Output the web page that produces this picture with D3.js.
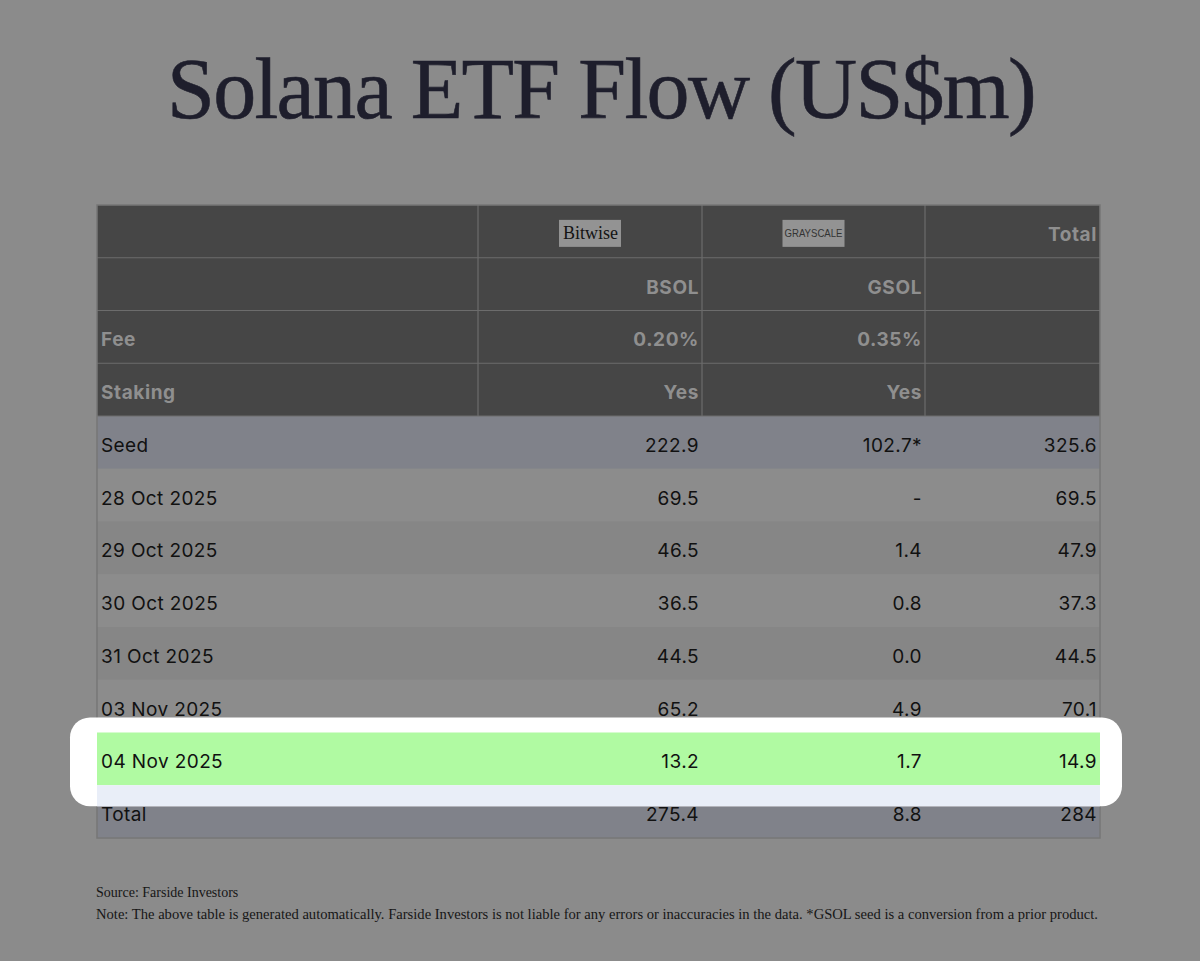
<!DOCTYPE html>
<html>
<head>
<meta charset="utf-8">
<style>
  html, body { margin: 0; padding: 0; background: #8b8b8b; }
  svg { display: block; }
  .cell { font-family: Inter, "Liberation Sans", sans-serif; font-size: 19px; letter-spacing: 0.4px; }
  .head { font-weight: bold; fill: #8f8f8f; letter-spacing: 0.6px; }
  .note { font-family: "Liberation Serif", serif; font-size: 14px; fill: #161616; }
</style>
</head>
<body>
<svg id="chart" width="1200" height="961"></svg>
<script src="https://cdn.jsdelivr.net/npm/d3@7"></script>
<script>
// table content
var funds = ["BSOL", "GSOL"];
var issuers = ["Bitwise", "GRAYSCALE"];
var fees = ["0.20%", "0.35%"];
var staking = ["Yes", "Yes"];
var dates = ["Seed", "28 Oct 2025", "29 Oct 2025", "30 Oct 2025", "31 Oct 2025", "03 Nov 2025", "04 Nov 2025", "Total"];
var bsolFlow = ["222.9", "69.5", "46.5", "36.5", "44.5", "65.2", "13.2", "275.4"];
var gsolFlow = ["102.7*", "-", "1.4", "0.8", "0.0", "4.9", "1.7", "8.8"];
var totalFlow = ["325.6", "69.5", "47.9", "37.3", "44.5", "70.1", "14.9", "284"];
var highlightDate = "04 Nov 2025";

var W = 1200, H = 961;
var svg = d3.select("#chart");

var tableLeft = 97, tableRight = 1100, tableTop = 205, tableBottom = 838;
var colKeys = ["label", "BSOL", "GSOL", "Total"];
// column edges
var colEdge = d3.scaleOrdinal().domain(colKeys.concat(["end"])).range([tableLeft, 478, 702, 925, tableRight]);
function colRight(k) { return colEdge(colKeys[colKeys.indexOf(k) + 1] || "end"); }

var nHead = 4;
var y = d3.scaleBand().domain(d3.range(nHead + dates.length)).range([tableTop, tableBottom]);

// title
svg.append("text")
  .attr("x", W / 2 + 1).attr("y", 118)
  .attr("text-anchor", "middle")
  .style("font-family", "'Liberation Serif', 'Times New Roman', serif")
  .style("font-size", "86px")
  .style("letter-spacing", "-1.7px")
  .style("fill", "#1e1e2c")
  .style("stroke", "#1e1e2c").style("stroke-width", 0.6)
  .text("Solana ETF Flow (US$m)");

var table = svg.append("g");

// header block
table.append("rect")
  .attr("x", tableLeft).attr("y", y(0))
  .attr("width", tableRight - tableLeft).attr("height", y(nHead) - y(0))
  .attr("fill", "#464646");

// body rows (dimmed colours)
var rowFill = function (i) {
  if (dates[i] === "Seed" || dates[i] === "Total") return "#80828a";
  return i % 2 === 1 ? "#8c8c8c" : "#868686";
};
table.selectAll(".row").data(dates).enter().append("rect")
  .attr("class", "row")
  .attr("x", tableLeft).attr("y", (d, i) => y(nHead + i))
  .attr("width", tableRight - tableLeft).attr("height", y.bandwidth())
  .attr("fill", (d, i) => rowFill(i));

// header grid lines
d3.range(1, nHead + 1).forEach(function (r) {
  table.append("line")
    .attr("x1", tableLeft).attr("x2", tableRight)
    .attr("y1", y(r)).attr("y2", y(r))
    .attr("stroke", "#6c6c6c").attr("stroke-width", 1.2);
});
colKeys.slice(1).forEach(function (k) {
  table.append("line")
    .attr("x1", colEdge(k)).attr("x2", colEdge(k))
    .attr("y1", y(0)).attr("y2", y(nHead))
    .attr("stroke", "#6c6c6c").attr("stroke-width", 1.2);
});

// outer border
table.append("rect")
  .attr("x", tableLeft).attr("y", tableTop)
  .attr("width", tableRight - tableLeft).attr("height", tableBottom - tableTop)
  .attr("fill", "none").attr("stroke", "#777777").attr("stroke-width", 1.5);

// issuer logos
issuers.forEach(function (name, i) {
  var k = funds[i];
  var cx = (colEdge(k) + colRight(k)) / 2;
  var cy = y(0) + y.bandwidth() / 2 + 2;
  var bw = 62, bh = 27;
  table.append("rect")
    .attr("x", cx - bw / 2).attr("y", cy - bh / 2)
    .attr("width", bw).attr("height", bh)
    .attr("fill", "#939393");
  table.append("text")
    .attr("x", cx - bw / 2 + (i === 0 ? 4 : 2)).attr("y", cy + (i === 0 ? 5.5 : 4))
    .attr("textLength", i === 0 ? 55 : 58).attr("lengthAdjust", "spacingAndGlyphs")
    .style("font-family", i === 0 ? "'Liberation Serif', serif" : "'Liberation Sans', sans-serif")
    .style("font-size", i === 0 ? "18px" : "11px")
    .style("fill", i === 0 ? "#141414" : "#333333")
    .text(name);
});

function cellText(row, key, str, cls) {
  var left = key === "label";
  return table.append("text")
    .attr("class", "cell " + (cls || ""))
    .attr("x", left ? colEdge(key) + 4 : colRight(key) - 3)
    .attr("y", y(row) + y.bandwidth() / 2 + 9.5)
    .attr("text-anchor", left ? "start" : "end")
    .text(str);
}

// header texts
cellText(0, "Total", "Total", "head");
funds.forEach((f, i) => cellText(1, f, f, "head"));
cellText(2, "label", "Fee", "head");
fees.forEach((v, i) => cellText(2, funds[i], v, "head"));
cellText(3, "label", "Staking", "head");
staking.forEach((v, i) => cellText(3, funds[i], v, "head"));

// highlight callout
var hi = dates.indexOf(highlightDate);
var hy = y(nHead + hi);
var hl = table.append("g");
hl.append("rect")
  .attr("x", 70).attr("y", hy - 15)
  .attr("width", 1052).attr("height", y.bandwidth() + 36)
  .attr("rx", 20).attr("ry", 20)
  .attr("fill", "#ffffff");
hl.append("rect")
  .attr("x", tableLeft).attr("y", hy)
  .attr("width", tableRight - tableLeft).attr("height", y.bandwidth())
  .attr("fill", "#b0faa2");
hl.append("rect")
  .attr("x", tableLeft).attr("y", y(nHead + hi + 1))
  .attr("width", tableRight - tableLeft).attr("height", hy + y.bandwidth() + 21 - y(nHead + hi + 1))
  .attr("fill", "#e9eef8");

// body texts
dates.forEach(function (d, i) {
  var r = nHead + i;
  cellText(r, "label", d).style("fill", "#111");
  cellText(r, "BSOL", bsolFlow[i]).style("fill", "#111");
  cellText(r, "GSOL", gsolFlow[i]).style("fill", "#111");
  cellText(r, "Total", totalFlow[i]).style("fill", "#111");
});

// footnotes
svg.append("text").attr("class", "note")
  .attr("x", 96).attr("y", 897)
  .text("Source: Farside Investors");
svg.append("text").attr("class", "note")
  .attr("x", 96).attr("y", 919)
  .attr("textLength", 1002).attr("lengthAdjust", "spacingAndGlyphs")
  .text("Note: The above table is generated automatically. Farside Investors is not liable for any errors or inaccuracies in the data. *GSOL seed is a conversion from a prior product.");
</script>
</body>
</html>
